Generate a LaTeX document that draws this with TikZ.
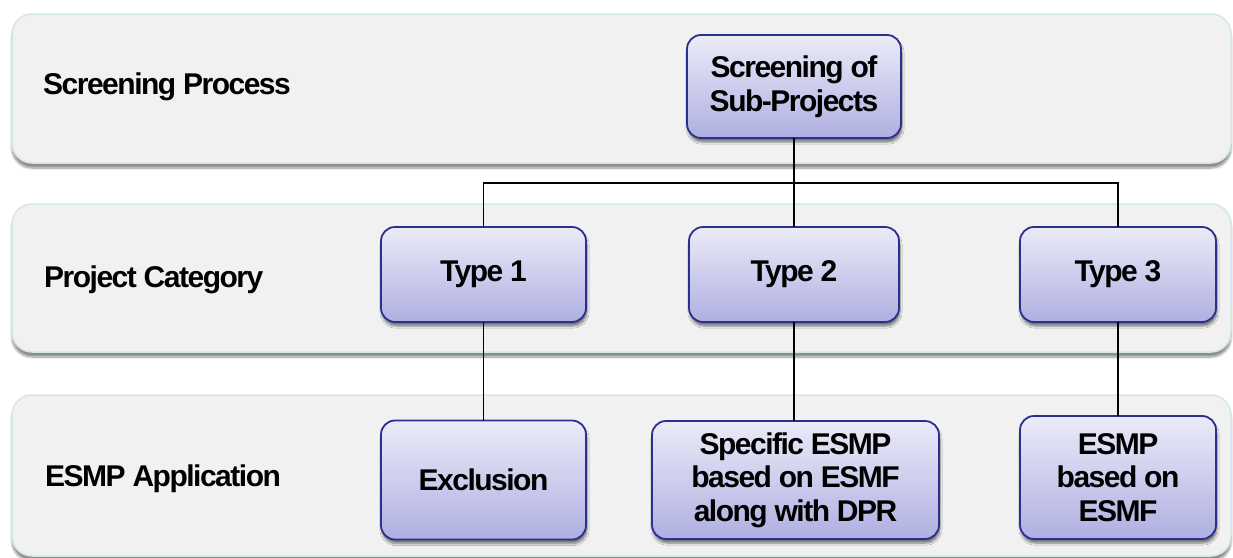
\documentclass[tikz,border=0pt]{standalone}
\usepackage{fontspec}
\setmainfont{Liberation Sans}[LetterSpace=-5]
\usetikzlibrary{shadows.blur}
\definecolor{bandfill}{HTML}{F1F1F1}
\definecolor{bandline}{HTML}{D3E6E9}
\definecolor{boxtop}{HTML}{EBEBF8}
\definecolor{boxbot}{HTML}{AFAFE2}
\definecolor{boxline}{HTML}{2B2F8E}
\newcommand{\diagfont}{\fontsize{30}{33.5}\selectfont\bfseries}
\begin{document}
\begin{tikzpicture}[x=1pt, y=-1pt,
  band/.style={draw=bandline, line width=1.5pt, fill=bandfill, rounded corners=20pt,
    blur shadow={shadow xshift=0pt, shadow yshift=-5pt, shadow blur steps=8, shadow opacity=45}},
  stepbox/.style={draw=boxline, line width=1.8pt, rounded corners=14pt,
    top color=boxtop, bottom color=boxbot, align=center, font=\diagfont,
    inner sep=0pt, outer sep=0pt,
    blur shadow={shadow xshift=1pt, shadow yshift=-4pt, shadow blur steps=6, shadow opacity=50}},
  rowlabel/.style={anchor=west, font=\diagfont, inner sep=0pt},
  link/.style={draw=black, line width=1.6pt}]
\useasboundingbox (0,0) rectangle (1233,557);

% background rows
\path[band] (12,14) rectangle (1231,163);
\path[band] (12,204) rectangle (1231,352);
\path[band] (12,395) rectangle (1231,556);

% row labels
\node[rowlabel] (lab1) at (43,87) {Screening Process};
\node[rowlabel] (lab2) at (44,280) {Project Category};
\node[rowlabel] (lab3) at (45,479) {ESMP Application};

% boxes
\node[stepbox, minimum width=214pt, minimum height=103pt] (scr) at (794,86.5) {Screening of\\Sub-Projects};
\node[stepbox, minimum width=205pt, minimum height=95pt] (t1) at (483.5,274.5) {Type 1};
\node[stepbox, minimum width=210pt, minimum height=95pt] (t2) at (794,274.5) {Type 2};
\node[stepbox, minimum width=196pt, minimum height=95pt] (t3) at (1118,274.5) {Type 3};
\node[stepbox, minimum width=205pt, minimum height=119pt] (ex) at (483.5,480) {Exclusion};
\node[stepbox, minimum width=287pt, minimum height=118pt] (sp) at (795.5,480) {Specific ESMP\\based on ESMF\\along with DPR};
\node[stepbox, minimum width=196pt, minimum height=123pt] (es) at (1118,477.5) {ESMP\\based on\\ESMF};

% connectors
\coordinate (bus) at (794,183);
\draw[link] (scr.south) -- (scr.south |- bus);
\draw[link] (t1.north) -- (t1.north |- bus) -- (t3.north |- bus) -- (t3.north);
\draw[link] (t2.north) -- (t2.north |- bus);
\draw[link] (t1.south) -- (ex.north -| t1.south);
\draw[link] (t2.south) -- (sp.north -| t2.south);
\draw[link] (t3.south) -- (es.north -| t3.south);
\end{tikzpicture}
\end{document}
